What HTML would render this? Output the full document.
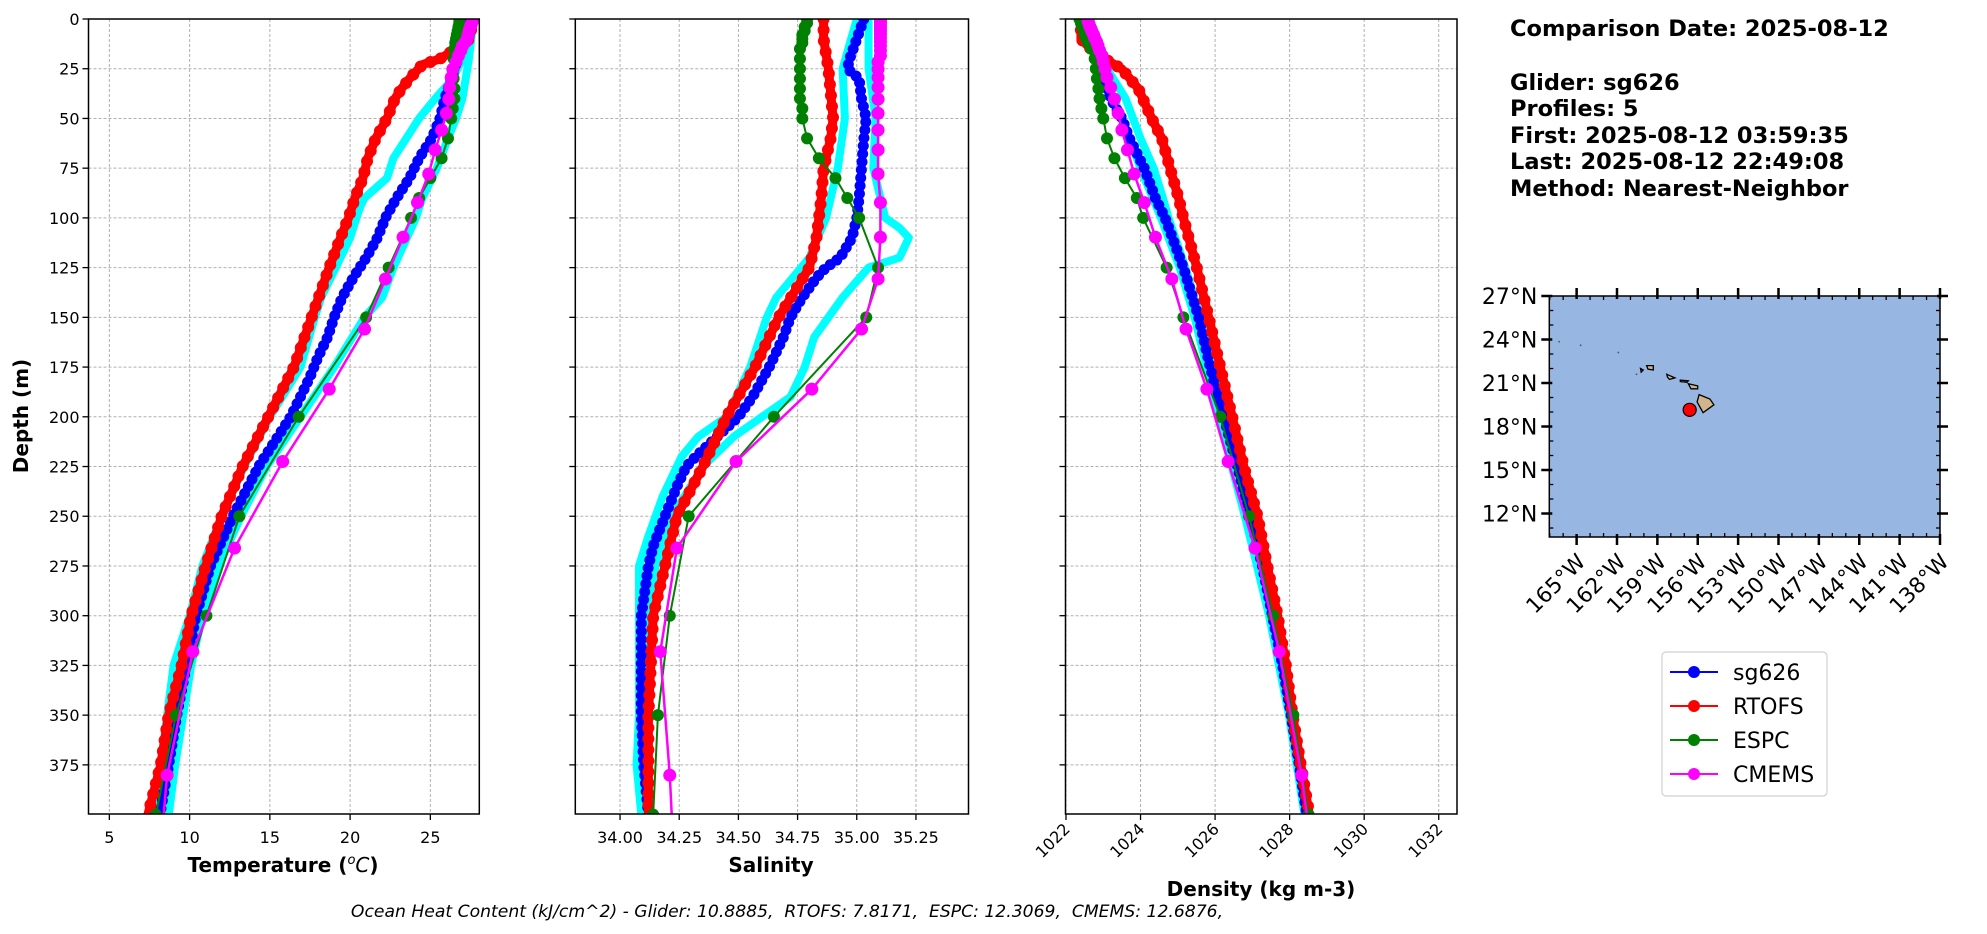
<!DOCTYPE html>
<html><head><meta charset="utf-8"><style>
html,body{margin:0;padding:0;background:#fff;}
svg{display:block;font-family:"DejaVu Sans","Liberation Sans",sans-serif;}
</style></head><body>
<svg id="fig" width="1987" height="934" viewBox="0 0 1987 934" xmlns="http://www.w3.org/2000/svg">
<rect width="1987" height="934" fill="#fff"/>
<defs>
<clipPath id="c1"><rect x="88.5" y="19" width="390.8" height="795"/></clipPath>
<clipPath id="c2"><rect x="575.3" y="19" width="393.2" height="795"/></clipPath>
<clipPath id="c3"><rect x="1065.5" y="19" width="391.5" height="795"/></clipPath>
</defs>
<g id="plots"></g>
<text x="28" y="416" transform="rotate(-90 28 416)" text-anchor="middle" font-size="20" font-weight="bold">Depth (m)</text>
<text x="283" y="872" text-anchor="middle" font-size="20" font-weight="bold">Temperature (<tspan font-style="italic" font-weight="normal" font-size="13" dy="-8">o</tspan><tspan font-style="italic" font-weight="normal" dy="8">C</tspan>)</text>
<text x="771" y="872" text-anchor="middle" font-size="20" font-weight="bold">Salinity</text>
<text x="1261" y="896" text-anchor="middle" font-size="20" font-weight="bold">Density (kg m-3)</text>
<text x="787" y="917" text-anchor="middle" font-size="17.2" font-style="italic" xml:space="preserve">Ocean Heat Content (kJ/cm^2) - Glider: 10.8885,  RTOFS: 7.8171,  ESPC: 12.3069,  CMEMS: 12.6876,</text>
<g font-size="22.5" font-weight="bold">
<text x="1510" y="36">Comparison Date: 2025-08-12</text>
<text x="1510" y="90">Glider: sg626</text>
<text x="1510" y="116">Profiles: 5</text>
<text x="1510" y="143">First: 2025-08-12 03:59:35</text>
<text x="1510" y="169">Last: 2025-08-12 22:49:08</text>
<text x="1510" y="196">Method: Nearest-Neighbor</text>
</g>
<g id="map"></g>
<g>
<rect x="1662" y="652" width="165" height="144" rx="4" fill="#fff" stroke="#d0d0d0" stroke-width="1.2"/>
<g><line x1="1670" y1="672" x2="1718" y2="672" stroke="#0000ff" stroke-width="2"/><circle cx="1694" cy="672" r="6" fill="#0000ff"/><text x="1733" y="680" font-size="22">sg626</text></g>
<g><line x1="1670" y1="706" x2="1718" y2="706" stroke="#ff0000" stroke-width="2"/><circle cx="1694" cy="706" r="6" fill="#ff0000"/><text x="1733" y="714" font-size="22">RTOFS</text></g>
<g><line x1="1670" y1="740" x2="1718" y2="740" stroke="#008000" stroke-width="2"/><circle cx="1694" cy="740" r="6" fill="#008000"/><text x="1733" y="748" font-size="22">ESPC</text></g>
<g><line x1="1670" y1="774" x2="1718" y2="774" stroke="#ff00ff" stroke-width="2"/><circle cx="1694" cy="774" r="6" fill="#ff00ff"/><text x="1733" y="782" font-size="22">CMEMS</text></g>
</g>
</svg>
<script>
const gliderTempDepth=[0,20,30,40,50,60,70,80,90,100,110,120,130,140,150,160,170,180,190,200,225,250,275,300,325,350,375,400];
const gliderTemp=[27.45,26.7,26.3,25.9,25.6,25.1,24.3,23.7,22.9,22.2,21.7,21.0,20.2,19.5,19.0,18.6,18.0,17.5,16.9,16.3,14.3,12.7,11.3,10.4,9.8,9.2,8.7,8.15];
const rtofsTempDepth=[0,10,17,20,23,30,35,40,50,60,70,80,90,100,110,125,150,175,200,225,250,275,300,325,350,375,400];
const rtofsTemp=[27.65,27.45,26.2,25.6,24.5,23.7,23.2,22.8,22.3,21.6,21.1,20.8,20.3,19.9,19.4,18.7,17.6,16.5,14.9,13.3,12.0,11.0,10.1,9.5,8.7,8.2,7.4];
const espcDepth=[0,2,4,6,8,10,12,15,20,25,30,35,40,45,50,60,70,80,90,100,125,150,200,250,300,350,400];
const espcTemp=[26.8,26.8,26.75,26.7,26.65,26.6,26.55,26.5,26.45,26.45,26.45,26.5,26.5,26.4,26.3,26.1,25.7,25.0,24.3,23.8,22.4,21.0,16.8,13.1,11.05,9.15,7.9];
const cmemsDepth=[0.5,1.5,2.6,3.8,5,6.4,7.9,9.6,11.4,13.5,15.8,18.5,21.6,25.2,29.4,34.4,40.3,47.4,55.8,65.8,77.9,92.3,109.7,130.7,155.9,186.1,222.5,266,318.1,380.2,453.9];
const cmemsTemp=[27.6,27.6,27.55,27.5,27.45,27.4,27.35,27.3,27.2,27.0,26.9,26.75,26.6,26.4,26.3,26.2,26.15,26.0,25.7,25.3,24.9,24.2,23.3,22.2,20.9,18.7,15.8,12.8,10.2,8.6,7.8];
const rawATempDepth=[0,20,30,40,50,60,70,80,90,95,100,110,125,140,150,175,200,225,250,275,300,325,350,375,400];
const rawATemp=[27.5,27.0,26.4,25.3,24.3,23.5,22.7,22.3,20.9,20.6,20.4,20.0,19.1,18.2,17.8,16.9,15.0,13.4,12.0,10.8,10.0,9.0,8.6,8.2,7.9];
const rawBTempDepth=[0,20,40,50,60,75,90,100,125,140,150,175,200,225,250,275,300,325,350,375,400];
const rawBTemp=[27.7,27.4,27.0,26.6,26.1,25.4,24.5,24.1,22.7,22.0,20.9,19.0,16.9,14.8,13.2,11.8,10.8,10.1,9.6,9.1,8.7];
const gliderSalDepth=[0,10,20,25,30,40,50,60,75,90,100,110,120,125,130,140,150,160,175,190,200,210,220,225,235,250,265,275,300,325,350,375,400];
const gliderSal=[35.03,35.0,34.97,34.96,35.01,35.02,35.04,35.03,35.02,35.01,35.0,34.98,34.93,34.87,34.83,34.77,34.72,34.69,34.63,34.56,34.50,34.41,34.32,34.28,34.24,34.19,34.14,34.12,34.09,34.09,34.09,34.10,34.12];
const rtofsSalDepth=[0,10,25,50,60,75,90,100,110,125,150,175,200,225,250,275,300,325,350,375,400];
const rtofsSal=[34.86,34.86,34.88,34.90,34.89,34.86,34.85,34.84,34.83,34.80,34.67,34.57,34.45,34.35,34.24,34.19,34.14,34.13,34.12,34.12,34.12];
const espcSal=[34.79,34.79,34.78,34.78,34.77,34.77,34.77,34.76,34.76,34.76,34.76,34.76,34.76,34.77,34.77,34.79,34.84,34.91,34.96,35.01,35.09,35.04,34.65,34.29,34.21,34.16,34.14];
const cmemsSal=[35.10,35.10,35.10,35.10,35.10,35.10,35.10,35.10,35.10,35.10,35.10,35.10,35.09,35.09,35.09,35.09,35.09,35.09,35.09,35.09,35.09,35.10,35.10,35.09,35.02,34.81,34.49,34.24,34.17,34.21,34.24];
const rawASalDepth=[0,25,50,75,100,120,140,150,175,200,210,220,240,260,275,300,350,375,400];
const rawASal=[35.0,34.94,34.95,34.92,34.87,34.80,34.66,34.62,34.55,34.45,34.33,34.26,34.18,34.12,34.08,34.08,34.08,34.07,34.09];
const rawBSalDepth=[0,25,50,75,100,105,110,120,125,140,160,175,190,200,210,225,250,275,300,350,400];
const rawBSal=[35.05,35.05,35.08,35.07,35.12,35.18,35.22,35.18,35.05,34.94,34.82,34.78,34.72,34.60,34.48,34.35,34.22,34.15,34.12,34.12,34.12];
const gliderDenDepth=[0,25,40,50,60,75,90,100,125,150,175,200,225,250,275,300,325,350,375,400];
const gliderDen=[1022.59,1022.9,1023.2,1023.5,1023.7,1024.1,1024.4,1024.66,1025.15,1025.56,1025.87,1026.23,1026.6,1026.95,1027.27,1027.54,1027.81,1028.04,1028.26,1028.46];
const rtofsDenDepth=[0,10,17,25,35,50,60,75,90,100,125,150,175,200,225,250,275,300,325,350,375,400];
const rtofsDen=[1022.4,1022.4,1022.77,1023.49,1023.94,1024.3,1024.57,1024.79,1025.02,1025.15,1025.51,1025.83,1026.14,1026.46,1026.77,1027.14,1027.4,1027.68,1027.9,1028.08,1028.3,1028.53];
const espcDen=[1022.36,1022.4,1022.44,1022.48,1022.51,1022.54,1022.6,1022.68,1022.77,1022.8,1022.83,1022.87,1022.9,1022.95,1023.0,1023.1,1023.3,1023.58,1023.9,1024.07,1024.7,1025.15,1026.14,1026.91,1027.56,1028.1,1028.51];
const cmemsDen=[1022.59,1022.6,1022.62,1022.64,1022.67,1022.7,1022.74,1022.77,1022.82,1022.86,1022.9,1022.97,1023.0,1023.05,1023.1,1023.2,1023.3,1023.4,1023.5,1023.65,1023.83,1024.1,1024.4,1024.84,1025.22,1025.78,1026.35,1027.07,1027.72,1028.32,1028.85];
const rawADenDepth=[0,25,40,60,75,90,100,125,150,200,250,300,350,400];
const rawADen=[1022.6,1023.1,1023.6,1024.0,1024.35,1024.6,1024.75,1025.2,1025.6,1026.25,1026.92,1027.5,1028.0,1028.45];
const rawBDenDepth=[0,25,50,75,100,125,150,200,250,300,350,400];
const rawBDen=[1022.55,1022.95,1023.5,1024.0,1024.55,1025.05,1025.45,1026.1,1026.8,1027.45,1027.98,1028.4];
const depthTicks=[0,25,50,75,100,125,150,175,200,225,250,275,300,325,350,375];
const tempTicks=[5,10,15,20,25];
const salTicks=[34.00,34.25,34.50,34.75,35.00,35.25];
const salTickLabels=["34.00","34.25","34.50","34.75","35.00","35.25"];
const denTicks=[1022,1024,1026,1028,1030,1032];
const latTicks=[27,24,21,18,15,12];
const lonTicks=[-165,-162,-159,-156,-153,-150,-147,-144,-141,-138];
const gliderLon=[-156.6];
const gliderLat=[19.15];

const NS="http://www.w3.org/2000/svg";
function mk(tag,attrs,parent){const e=document.createElementNS(NS,tag);for(const k in attrs)e.setAttribute(k,attrs[k]);parent.appendChild(e);return e;}
const plots=document.getElementById('plots');
const Y0=19,Y1=814,DMAX=399.7;
function yS(d){return Y0+(d/DMAX)*(Y1-Y0);}
const panels=[
 {name:'temperature',x0:88.5,x1:479.3,min:3.70,max:28.05,ticks:tempTicks,labels:tempTicks.map(String),clip:'c1',rot:false,ylab:true},
 {name:'salinity',x0:575.3,x1:968.5,min:33.811,max:35.472,ticks:salTicks,labels:salTickLabels,clip:'c2',rot:false,ylab:false},
 {name:'density',x0:1065.5,x1:1457,min:1021.987,max:1032.49,ticks:denTicks,labels:denTicks.map(String),clip:'c3',rot:true,ylab:false}
];
panels.forEach(p=>{p.xs=v=>p.x0+(v-p.min)/(p.max-p.min)*(p.x1-p.x0);});
function drawAxes(p){
 const g=mk('g',{},plots);
 
 
 depthTicks.forEach(d=>{
  const y=yS(d);
  const gl=mk('line',{x1:p.x0,x2:p.x1,y1:y,y2:y,stroke:'#b0b0b0','stroke-width':1,'stroke-dasharray':'3,2'},g);
  
  
  mk('line',{x1:p.x0-6,x2:p.x0,y1:y,y2:y,stroke:'#000','stroke-width':1.3},g);
  if(p.ylab){const t=mk('text',{x:p.x0-9,y:y+6,'text-anchor':'end','font-size':16},g);t.textContent=d;
   
   }
 });
 p.ticks.forEach((v,i)=>{
  const x=p.xs(v);
  const gl=mk('line',{x1:x,x2:x,y1:Y0,y2:Y1,stroke:'#b0b0b0','stroke-width':1,'stroke-dasharray':'3,2'},g);
  
  
  mk('line',{x1:x,x2:x,y1:Y1,y2:Y1+6,stroke:'#000','stroke-width':1.3},g);
  let t;
  if(p.rot){t=mk('text',{x:x+5,y:Y1+16,'text-anchor':'end','font-size':16,transform:`rotate(-45 ${x+5} ${Y1+16})`},g);}
  else{t=mk('text',{x:x,y:Y1+29,'text-anchor':'middle','font-size':16},g);}
  t.textContent=p.labels[i];
  
  
 });
}
function drawFrame(p){
 const r=mk('rect',{x:p.x0,y:Y0,width:p.x1-p.x0,height:Y1-Y0,fill:'none',stroke:'#000','stroke-width':1.5},plots);
 
 
}
function pts(p,depth,vals){return vals.map((v,i)=>[p.xs(v),yS(depth[i])]);}
function line(g,p,depth,vals,color,w,name){
 const d=pts(p,depth,vals).map((q,i)=>(i?'L':'M')+q[0].toFixed(1)+','+q[1].toFixed(1)).join('');
 const e=mk('path',{d:d,fill:'none',stroke:color,'stroke-width':w,'stroke-linejoin':'round','stroke-linecap':'round'},g);
 
 
 return e;
}
function dotsAtData(g,p,depth,vals,color,r,name){
 pts(p,depth,vals).forEach(q=>{const c=mk('circle',{cx:q[0],cy:q[1],r:r,fill:color},g);
  
  });
}
function dotsAlong(g,path,color,r,step,name){
 const L=path.getTotalLength();
 for(let s=0;s<=L;s+=step){const q=path.getPointAtLength(s);
  const c=mk('circle',{cx:q.x,cy:q.y,r:r,fill:color},g);
  
  }
}
function series(p,sets){
 const g=mk('g',{'clip-path':`url(#${p.clip})`},plots);
 
 
 line(g,p,sets.rA[0],sets.rA[1],'#00ffff',8,'raw-glider-profile');
 line(g,p,sets.rB[0],sets.rB[1],'#00ffff',8,'raw-glider-profile');
 const b=line(g,p,sets.gl[0],sets.gl[1],'#0000ff',2,'sg626-line');
 dotsAlong(g,b,'#0000ff',5.5,8,'sg626-point');
 const r=line(g,p,sets.rt[0],sets.rt[1],'#ff0000',9,'rtofs-line');
 dotsAlong(g,r,'#ff0000',6,11,'rtofs-point');
 line(g,p,espcDepth,sets.es,'#008000',2,'espc-line');
 dotsAtData(g,p,espcDepth,sets.es,'#008000',6,'espc-point');
 line(g,p,cmemsDepth,sets.cm,'#ff00ff',2.5,'cmems-line');
 dotsAtData(g,p,cmemsDepth,sets.cm,'#ff00ff',6.5,'cmems-point');
}
panels.forEach(drawAxes);
series(panels[0],{rA:[rawATempDepth,rawATemp],rB:[rawBTempDepth,rawBTemp],gl:[gliderTempDepth,gliderTemp],rt:[rtofsTempDepth,rtofsTemp],es:espcTemp,cm:cmemsTemp});
series(panels[1],{rA:[rawASalDepth,rawASal],rB:[rawBSalDepth,rawBSal],gl:[gliderSalDepth,gliderSal],rt:[rtofsSalDepth,rtofsSal],es:espcSal,cm:cmemsSal});
series(panels[2],{rA:[rawADenDepth,rawADen],rB:[rawBDenDepth,rawBDen],gl:[gliderDenDepth,gliderDen],rt:[rtofsDenDepth,rtofsDen],es:espcDen,cm:cmemsDen});
panels.forEach(drawFrame);

const map=document.getElementById('map');
const MX0=1549.3,MX1=1940,MY0=296,MY1=537;
const LON0=-167.03,LON1=-138,LAT1=27,LAT0=10.38;
function lx(lon){return MX0+(lon-LON0)/(LON1-LON0)*(MX1-MX0);}
function ly(lat){return MY0+(LAT1-lat)/(LAT1-LAT0)*(MY1-MY0);}
const ocean=mk('rect',{x:MX0,y:MY0,width:MX1-MX0,height:MY1-MY0,fill:'#97b6e1'},map);


const islands=[
 [[-155.9,20.2],[-155.1,19.9],[-154.8,19.5],[-155.6,18.95],[-156.05,19.7]],
 [[-156.7,20.95],[-156.0,20.8],[-156.0,20.6],[-156.5,20.6]],
 [[-157.3,21.2],[-156.7,21.15],[-156.8,21.05],[-157.3,21.1]],
 [[-158.3,21.6],[-157.7,21.35],[-158.1,21.25],[-158.25,21.4]],
 [[-159.8,22.2],[-159.3,22.2],[-159.3,21.9],[-159.7,21.95]],
 [[-160.25,22.0],[-160.05,21.9],[-160.2,21.75]]
];
islands.forEach(poly=>{
 const e=mk('polygon',{points:poly.map(q=>lx(q[0]).toFixed(1)+','+ly(q[1]).toFixed(1)).join(' '),fill:'#d2b48c',stroke:'#000','stroke-width':1.3},map);
 
 
});
[[-166.3,23.85],[-164.7,23.6],[-161.9,23.1],[-160.55,21.6]].forEach(q=>{
 mk('circle',{cx:lx(q[0]),cy:ly(q[1]),r:0.9,fill:'#556'},map);
});
gliderLon.forEach((lo,i)=>{
 const c=mk('circle',{cx:lx(lo),cy:ly(gliderLat[i]),r:6.5,fill:'#ff0000',stroke:'#000','stroke-width':1.2},map);
 
 
});
const mf=mk('rect',{x:MX0,y:MY0,width:MX1-MX0,height:MY1-MY0,fill:'none',stroke:'#000','stroke-width':1.5},map);


for(let la=11;la<=27;la++){
 const y=ly(la);const major=latTicks.includes(la);
 mk('line',{x1:MX0-(major?8:0),x2:MX0+(major?3:4),y1:y,y2:y,stroke:'#000','stroke-width':major?2.5:1.3},map);
 mk('line',{x1:MX1-(major?3:4),x2:MX1+(major?8:0),y1:y,y2:y,stroke:'#000','stroke-width':major?2.5:1.3},map);
}
for(let lo=-167;lo<=-138;lo++){
 const x=lx(lo);const major=lonTicks.includes(lo);
 mk('line',{x1:x,x2:x,y1:MY1-(major?3:4),y2:MY1+(major?8:0),stroke:'#000','stroke-width':major?2.5:1.3},map);
 mk('line',{x1:x,x2:x,y1:MY0-(major?8:0),y2:MY0+(major?3:4),stroke:'#000','stroke-width':major?2.5:1.3},map);
}
latTicks.forEach(la=>{
 const t=mk('text',{x:MX0-12,y:ly(la)+8,'text-anchor':'end','font-size':22},map);
 t.textContent=la+'°N';
 
 
});
lonTicks.forEach(lo=>{
 const x=lx(lo)+10,y=MY1+26;
 const t=mk('text',{x:x,y:y,'text-anchor':'end','font-size':21.5,transform:`rotate(-45 ${x} ${y})`},map);
 t.textContent=(-lo)+'°W';
 
 
});
</script>
</body></html>
